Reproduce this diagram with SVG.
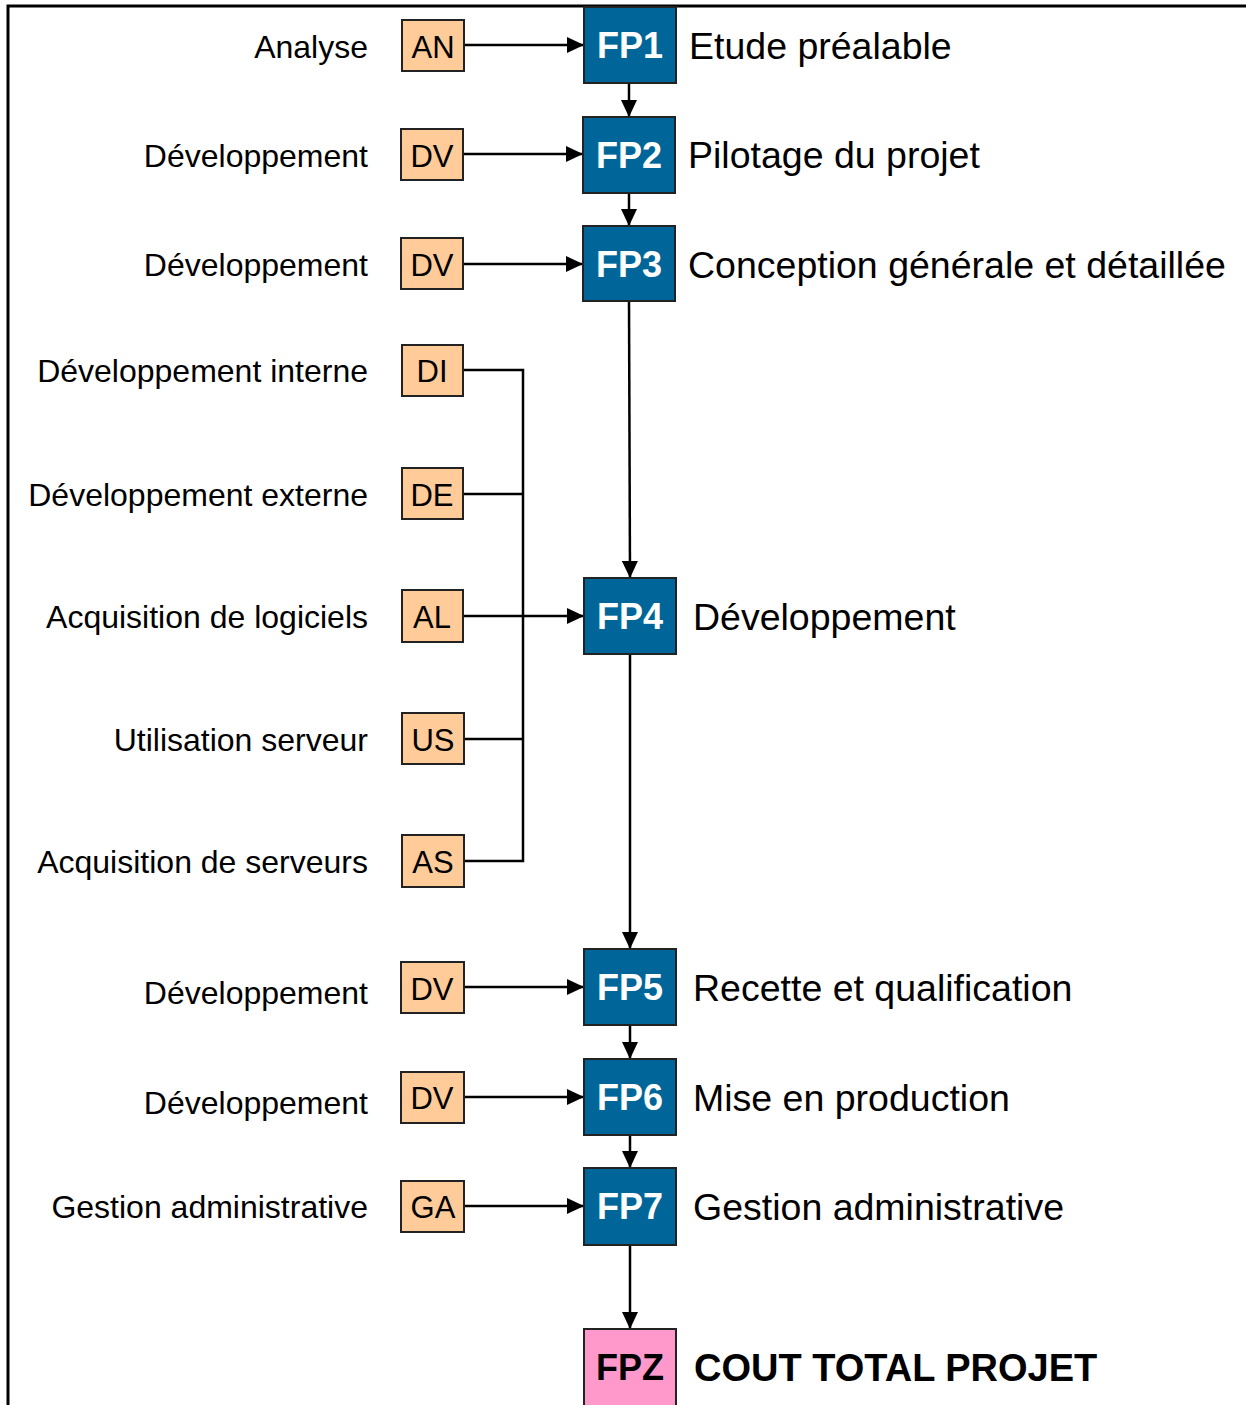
<svg xmlns="http://www.w3.org/2000/svg" width="1246" height="1405" viewBox="0 0 1246 1405">
<style>
.lbl{font-family:"Liberation Sans",Arial,sans-serif;font-size:32px;fill:#000;text-anchor:end}
.code{fill:#FFCC99;stroke:#222;stroke-width:2}
.codet{font-family:"Liberation Sans",Arial,sans-serif;font-size:31px;fill:#000;text-anchor:middle}
.fp{fill:#006699;stroke:#222;stroke-width:2}
.fpz{fill:#FF99CC;stroke:#222;stroke-width:2}
.fpt{font-family:"Liberation Sans",Arial,sans-serif;font-size:36px;font-weight:bold;fill:#fff;text-anchor:middle}
.fpzt{font-family:"Liberation Sans",Arial,sans-serif;font-size:36px;font-weight:bold;fill:#000;text-anchor:middle}
.ttl{font-family:"Liberation Sans",Arial,sans-serif;font-size:37.5px;fill:#000}
.ttlb{font-family:"Liberation Sans",Arial,sans-serif;font-size:38px;font-weight:bold;fill:#000}
.c{fill:none;stroke:#000;stroke-width:2.5}
.a{fill:none;stroke:#000;stroke-width:2.5;marker-end:url(#arr)}
</style>
<defs>
<marker id="arr" markerUnits="userSpaceOnUse" markerWidth="17" markerHeight="16" refX="17" refY="8" orient="auto">
<path d="M0,0 L17,8 L0,16 z" fill="#000"/>
</marker>
</defs>
<rect width="1246" height="1405" fill="#fff"/>
<g id="frame"><path d="M8,1405 V6 H1246" fill="none" stroke="#000" stroke-width="3"/></g>

<g id="connectors">
<path class="a" d="M464,45 H584"/>
<path class="a" d="M463,154 H583"/>
<path class="a" d="M463,264 H583"/>
<path class="a" d="M629,83 V117"/>
<path class="a" d="M629,193 V226"/>
<path class="a" d="M629,301 L630,578"/>
<path class="c" d="M463,370 H523 V861 H463"/>
<path class="c" d="M463,494 H523"/>
<path class="c" d="M463,739 H523"/>
<path class="a" d="M463,616 H584"/>
<path class="a" d="M630,654 V949"/>
<path class="a" d="M464,987 H584"/>
<path class="a" d="M630,1025 V1059"/>
<path class="a" d="M464,1097 H584"/>
<path class="a" d="M630,1135 V1168"/>
<path class="a" d="M464,1206 H584"/>
<path class="a" d="M630,1245 V1329"/>
</g>

<g id="AN"><text class="lbl" x="368" y="58">Analyse</text><rect class="code" x="402" y="20" width="62" height="51"/><text class="codet" x="433" y="58">AN</text></g>
<g id="DV1"><text class="lbl" x="368" y="167">Développement</text><rect class="code" x="401" y="129" width="62" height="51"/><text class="codet" x="432" y="167">DV</text></g>
<g id="DV2"><text class="lbl" x="368" y="276">Développement</text><rect class="code" x="401" y="238" width="62" height="51"/><text class="codet" x="432" y="276">DV</text></g>
<g id="DI"><text class="lbl" x="368" y="382">Développement interne</text><rect class="code" x="402" y="345" width="61" height="51"/><text class="codet" x="432" y="382">DI</text></g>
<g id="DE"><text class="lbl" x="368" y="506">Développement externe</text><rect class="code" x="402" y="468" width="61" height="51"/><text class="codet" x="432" y="506">DE</text></g>
<g id="AL"><text class="lbl" x="368" y="628">Acquisition de logiciels</text><rect class="code" x="402" y="590" width="61" height="52"/><text class="codet" x="432" y="628">AL</text></g>
<g id="US"><text class="lbl" x="368" y="751">Utilisation serveur</text><rect class="code" x="402" y="713" width="62" height="51"/><text class="codet" x="433" y="751">US</text></g>
<g id="AS"><text class="lbl" x="368" y="873">Acquisition de serveurs</text><rect class="code" x="402" y="835" width="62" height="52"/><text class="codet" x="433" y="873">AS</text></g>
<g id="DV5"><text class="lbl" x="368" y="1004">Développement</text><rect class="code" x="401" y="962" width="63" height="51"/><text class="codet" x="432" y="1000">DV</text></g>
<g id="DV6"><text class="lbl" x="368" y="1114">Développement</text><rect class="code" x="401" y="1072" width="63" height="51"/><text class="codet" x="432" y="1109">DV</text></g>
<g id="GA"><text class="lbl" x="368" y="1218">Gestion administrative</text><rect class="code" x="401" y="1181" width="63" height="51"/><text class="codet" x="433" y="1218">GA</text></g>

<g id="FP1"><rect class="fp" x="584" y="7" width="92" height="76"/><text class="fpt" x="630" y="58">FP1</text><text class="ttl" x="689" y="59">Etude préalable</text></g>
<g id="FP2"><rect class="fp" x="583" y="117" width="92" height="76"/><text class="fpt" x="629" y="168">FP2</text><text class="ttl" x="688" y="168">Pilotage du projet</text></g>
<g id="FP3"><rect class="fp" x="583" y="226" width="92" height="75"/><text class="fpt" x="629" y="277">FP3</text><text class="ttl" x="688" y="278">Conception générale et détaillée</text></g>
<g id="FP4"><rect class="fp" x="584" y="578" width="92" height="76"/><text class="fpt" x="630" y="629">FP4</text><text class="ttl" x="693" y="630">Développement</text></g>
<g id="FP5"><rect class="fp" x="584" y="949" width="92" height="76"/><text class="fpt" x="630" y="1000">FP5</text><text class="ttl" x="693" y="1001">Recette et qualification</text></g>
<g id="FP6"><rect class="fp" x="584" y="1059" width="92" height="76"/><text class="fpt" x="630" y="1110">FP6</text><text class="ttl" x="693" y="1111">Mise en production</text></g>
<g id="FP7"><rect class="fp" x="584" y="1168" width="92" height="77"/><text class="fpt" x="630" y="1219">FP7</text><text class="ttl" x="693" y="1220">Gestion administrative</text></g>
<g id="FPZ"><rect class="fpz" x="584" y="1329" width="92" height="80"/><text class="fpzt" x="630" y="1380">FPZ</text><text class="ttlb" x="694" y="1381">COUT TOTAL PROJET</text></g>
</svg>
